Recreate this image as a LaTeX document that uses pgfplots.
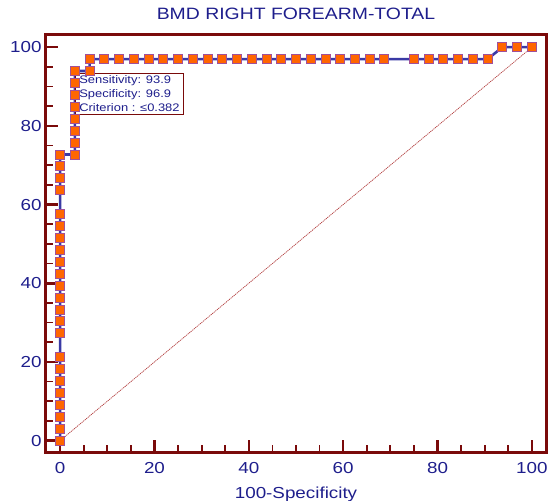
\documentclass[border=0pt]{standalone}
\usepackage{fontspec}
\setmainfont{Liberation Sans}[FakeStretch=1.18]
\usepackage{pgfplots}
\pgfplotsset{compat=1.18}

\definecolor{axiscol}{HTML}{7A0A0A}
\definecolor{textcol}{HTML}{1E1E8C}
\definecolor{curvecol}{HTML}{3A3AA5}
\definecolor{markfill}{HTML}{FF6600}
\definecolor{markdraw}{HTML}{A0509A}
\definecolor{diagcol}{HTML}{B03A3A}

\begin{document}
\begin{tikzpicture}
\begin{axis}[
  scale only axis,
  width=500bp, height=417bp,
  xmin=-3, xmax=103, ymin=-2.9, ymax=103.1,
  xtick={0,20,...,100}, ytick={0,20,...,100},
  minor tick num=3,
  xtick pos=bottom, ytick pos=left,
  tick align=inside,
  major tick length=12bp, minor tick length=7bp,
  tick style={color=axiscol},
  major tick style={line width=2.6bp},
  minor tick style={line width=1.8bp},
  axis line style={draw=axiscol, line width=3bp},
  /pgf/number format/assume math mode=true,
  tick label style={font=\fontsize{16}{19}\selectfont, text=textcol},
  xticklabel style={anchor=base, yshift=-21bp},
  yticklabel style={anchor=east, xshift=-1bp},
  title={BMD RIGHT FOREARM-TOTAL},
  title style={font=\fontsize{16.5}{19}\selectfont, text=textcol,
               at={(0.5,1)}, anchor=base, yshift=10bp},
  xlabel={100-Specificity},
  xlabel style={font=\fontsize{16}{19}\selectfont, text=textcol,
                at={(axis description cs:0.5,0)}, anchor=base, yshift=-46bp},
]
% chance line
\addplot[draw=diagcol, line width=0.7bp, dash pattern=on 1.2bp off 0.8bp]
  coordinates {(0,0) (100,100)};
% ROC curve
\addplot[draw=curvecol, line width=2.6bp, mark=square*,
  mark size=4.5bp,
  mark options={fill=markfill, draw=markdraw, line width=0.9bp, solid}]
  coordinates {
  (0,0) (0,3.03) (0,6.06) (0,9.09) (0,12.12) (0,15.15) (0,18.18) (0,21.21)
  (0,27.27) (0,30.30) (0,33.33) (0,36.36) (0,39.39) (0,42.42) (0,45.45)
  (0,48.48) (0,51.52) (0,54.55) (0,57.58)
  (0,63.64) (0,66.67) (0,69.70) (0,72.73)
  (3.125,72.73) (3.125,75.76) (3.125,78.79) (3.125,81.82) (3.125,84.85)
  (3.125,87.88) (3.125,90.91) (3.125,93.94)
  (6.25,93.94) (6.25,96.97)
  (9.375,96.97) (12.5,96.97) (15.625,96.97) (18.75,96.97) (21.875,96.97)
  (25,96.97) (28.125,96.97) (31.25,96.97) (34.375,96.97) (37.5,96.97)
  (40.625,96.97) (43.75,96.97) (46.875,96.97) (50,96.97) (53.125,96.97)
  (56.25,96.97) (59.375,96.97) (62.5,96.97) (65.625,96.97) (68.75,96.97)
  (75,96.97) (78.125,96.97) (81.25,96.97) (84.375,96.97) (87.5,96.97)
  (90.625,96.97)
  (93.75,100) (96.875,100) (100,100)
  };
% optimal criterion
\node[draw=axiscol, fill=white, line width=0.9bp, anchor=north west,
      align=left, inner xsep=4bp, inner ysep=3bp, text=textcol,
      font=\fontsize{11}{13.7}\selectfont, yshift=-1.5bp]
  at (axis cs:3.125,93.94)
  {Sensitivity: 93.9\\Specificity: 96.9\\Criterion : ≤0.382};
\end{axis}
\pgfresetboundingbox
\path[use as bounding box] (-46bp,-49bp) rectangle (504bp,452bp);
\end{tikzpicture}
\end{document}
